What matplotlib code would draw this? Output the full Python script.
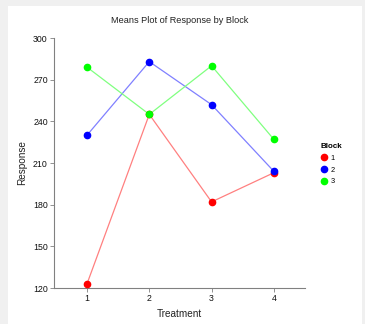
import matplotlib.pyplot as plt
from matplotlib.patches import Rectangle

plt.rcParams['font.family'] = ['Liberation Sans', 'DejaVu Sans']

treatments = [1, 2, 3, 4]
block_names = ["1", "2", "3"]
block1 = [123, 245, 182, 203]
block2 = [230, 283, 252, 204]
block3 = [279, 245, 280, 227]
y_ticks = [120, 150, 180, 210, 240, 270, 300]

marker_colors = ["#ff0000", "#0000ff", "#00ff00"]
line_colors = ["#ff8080", "#8080ff", "#80ff80"]

W, H = 365, 324
fig = plt.figure(figsize=(W / 100, H / 100), dpi=100, facecolor="#f0f0f0")
# white panel behind everything
fig.patches.append(Rectangle((8 / W, 0), (362 - 8) / W, (H - 6) / H,
                             transform=fig.transFigure, facecolor="white",
                             edgecolor="none", zorder=-10))

ax = fig.add_axes([54 / W, (H - 288) / H, (305 - 54) / W, (288 - 38) / H])
ax.set_facecolor("none")

for vals, mc, lc, name in zip([block1, block2, block3], marker_colors, line_colors, block_names):
    ax.plot(treatments, vals, color=lc, lw=0.9, zorder=2)
    ax.plot(treatments, vals, "o", color=mc, ms=4.5, mec=mc, zorder=3, label=name)

ax.set_xlim(0.47, 4.5)
ax.set_ylim(120, 300)
ax.set_xticks(treatments)
ax.set_yticks(y_ticks)
for s in ["top", "right"]:
    ax.spines[s].set_visible(False)
for s in ["left", "bottom"]:
    ax.spines[s].set_color("#808080")
    ax.spines[s].set_linewidth(0.8)
ax.tick_params(colors="#808080", labelcolor="#111111", labelsize=6.3, length=3, width=0.6, pad=1.5)

ax.set_title("Means Plot of Response by Block", fontsize=6.6, color="#222222", pad=11)
ax.set_xlabel("Treatment", fontsize=7.2, color="#222222", labelpad=4)
ax.set_ylabel("Response", fontsize=7.2, color="#222222", labelpad=4)

leg = ax.legend(title="Block", loc="upper left", bbox_to_anchor=(1.035, 0.605),
                frameon=False, fontsize=5.3, title_fontsize=5.8, handletextpad=0.4,
                handlelength=1.0, labelspacing=0.6)
leg.get_title().set_fontweight("bold")
leg._legend_box.align = "left"

fig.savefig("out.png", dpi=100, facecolor=fig.get_facecolor())
